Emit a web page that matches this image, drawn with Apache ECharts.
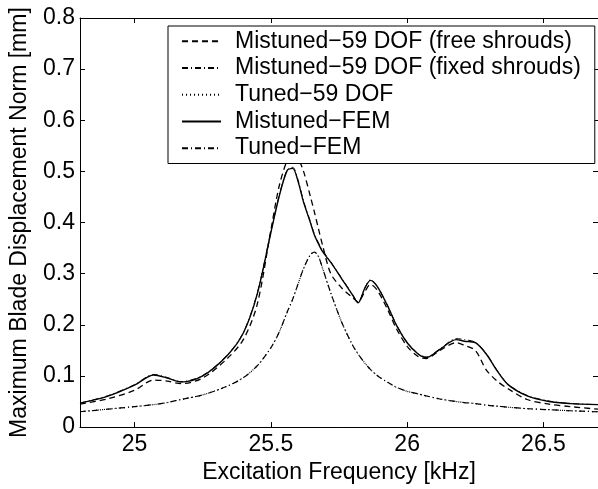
<!DOCTYPE html>
<html>
<head>
<meta charset="utf-8">
<script src="https://cdn.jsdelivr.net/npm/echarts@6/dist/echarts.min.js"></script>
<style>
html,body{margin:0;padding:0;background:#fff;}
#c{width:598px;height:489px;}
</style>
</head>
<body>
<div id="c"></div>
<script>
// Excitation frequency [kHz]
const freq = [24.8, 24.9, 25.0, 25.07, 25.12, 25.17, 25.25, 25.34, 25.4, 25.45, 25.5, 25.53, 25.56, 25.58, 25.6, 25.62, 25.645, 25.66, 25.675, 25.69, 25.72, 25.76, 25.8, 25.82, 25.845, 25.865, 25.89, 25.93, 25.96, 26.0, 26.04, 26.07, 26.12, 26.18, 26.21, 26.25, 26.29, 26.33, 26.37, 26.44, 26.52, 26.6, 26.7];

// Maximum blade displacement norm [mm]
const mistuned59Free = [0.045, 0.055, 0.072, 0.092, 0.090, 0.085, 0.096, 0.134, 0.172, 0.240, 0.385, 0.470, 0.522, 0.535, 0.525, 0.500, 0.451, 0.420, 0.387, 0.355, 0.300, 0.272, 0.253, 0.245, 0.265, 0.279, 0.268, 0.228, 0.193, 0.158, 0.138, 0.134, 0.150, 0.165, 0.160, 0.150, 0.112, 0.090, 0.075, 0.054, 0.045, 0.040, 0.035];
const mistuned59Fixed = [0.047, 0.061, 0.083, 0.103, 0.097, 0.089, 0.101, 0.141, 0.186, 0.262, 0.382, 0.452, 0.503, 0.508, 0.483, 0.442, 0.402, 0.377, 0.360, 0.345, 0.323, 0.291, 0.259, 0.244, 0.273, 0.288, 0.276, 0.236, 0.201, 0.166, 0.144, 0.137, 0.153, 0.173, 0.171, 0.166, 0.144, 0.111, 0.084, 0.062, 0.051, 0.046, 0.044];
const tuned59 = [0.030, 0.035, 0.040, 0.044, 0.048, 0.054, 0.063, 0.080, 0.097, 0.120, 0.155, 0.185, 0.225, 0.250, 0.280, 0.310, 0.337, 0.342, 0.333, 0.310, 0.262, 0.205, 0.160, 0.143, 0.125, 0.113, 0.101, 0.087, 0.078, 0.070, 0.065, 0.061, 0.055, 0.050, 0.048, 0.046, 0.043, 0.041, 0.039, 0.036, 0.034, 0.032, 0.030];
const mistunedFem = [0.047, 0.060, 0.082, 0.102, 0.096, 0.088, 0.100, 0.140, 0.185, 0.260, 0.380, 0.450, 0.502, 0.506, 0.480, 0.440, 0.400, 0.375, 0.358, 0.343, 0.322, 0.290, 0.258, 0.243, 0.272, 0.287, 0.275, 0.235, 0.200, 0.165, 0.143, 0.136, 0.152, 0.171, 0.168, 0.165, 0.143, 0.110, 0.083, 0.061, 0.050, 0.046, 0.044];
const tunedFem = [0.030, 0.035, 0.040, 0.044, 0.048, 0.054, 0.063, 0.080, 0.097, 0.120, 0.155, 0.185, 0.225, 0.250, 0.280, 0.310, 0.337, 0.342, 0.333, 0.310, 0.262, 0.205, 0.160, 0.143, 0.125, 0.113, 0.101, 0.087, 0.078, 0.070, 0.065, 0.061, 0.055, 0.050, 0.048, 0.046, 0.043, 0.041, 0.039, 0.036, 0.034, 0.032, 0.030];

const xTicks = [25, 25.5, 26, 26.5];
const seriesNames = ['Mistuned\u221259 DOF (free shrouds)', 'Mistuned\u221259 DOF (fixed shrouds)', 'Tuned\u221259 DOF', 'Mistuned\u2212FEM', 'Tuned\u2212FEM'];

const FONT = 'Liberation Sans, Arial, Helvetica, sans-serif';
const chart = echarts.init(document.getElementById('c'), null, {renderer: 'canvas'});

function pairs(vals) { return freq.map((f, i) => [f, vals[i]]); }
function line(name, vals, type, width) {
  return {
    name: name, type: 'line', data: pairs(vals),
    symbol: 'none', showSymbol: false, smooth: 0.3,
    lineStyle: {color: '#000', width: width, type: type},
    itemStyle: {color: '#000'},
    animation: false, silent: true
  };
}
const axisCommon = {
  axisLine: {show: true, onZero: false, lineStyle: {color: '#000', width: 1}},
  splitLine: {show: false}
};
chart.setOption({
  animation: false,
  backgroundColor: '#fff',
  grid: {left: 74, top: 18, width: 528, height: 417, containLabel: false},
  xAxis: [
    Object.assign({
      type: 'value', min: 24.8, max: 26.7, position: 'bottom',
      axisTick: {show: true, inside: true, length: 5, customValues: xTicks, lineStyle: {color: '#000'}},
      axisLabel: {show: true, customValues: xTicks, color: '#000', fontFamily: FONT, fontSize: 23, margin: 6,
        formatter: v => String(v)},
      name: 'Excitation Frequency [kHz]', nameLocation: 'middle', nameGap: 28,
      nameTextStyle: {color: '#000', fontFamily: FONT, fontSize: 23}
    }, axisCommon),
    Object.assign({
      type: 'value', min: 24.8, max: 26.7, position: 'top',
      axisTick: {show: true, inside: true, length: 5, customValues: xTicks, lineStyle: {color: '#000'}},
      axisLabel: {show: false}
    }, axisCommon)
  ],
  yAxis: [
    Object.assign({
      type: 'value', min: 0, max: 0.8, interval: 0.1, position: 'left',
      axisTick: {show: true, inside: true, length: 5, lineStyle: {color: '#000'}},
      axisLabel: {color: '#000', fontFamily: FONT, fontSize: 23, margin: 5,
        formatter: v => (Math.abs(v) < 1e-9 ? '0' : v.toFixed(1))},
      name: 'Maximum Blade Displacement Norm [mm]', nameLocation: 'middle', nameGap: 49,
      nameTextStyle: {color: '#000', fontFamily: FONT, fontSize: 23}
    }, axisCommon),
    Object.assign({
      type: 'value', min: 0, max: 0.8, interval: 0.1, position: 'right',
      axisTick: {show: true, inside: true, length: 5, lineStyle: {color: '#000'}},
      axisLabel: {show: false}
    }, axisCommon)
  ],
  legend: {
    show: true, orient: 'vertical', left: 168, top: 26,
    backgroundColor: '#fff', borderColor: '#000', borderWidth: 1,
    padding: [2, 14, 2, 13], itemGap: 0, itemWidth: 39, itemHeight: 14,
    itemStyle: {opacity: 0},
    textStyle: {color: '#000', fontFamily: FONT, fontSize: 23, lineHeight: 26.7, padding: [0, 0, 0, 9]},
    data: seriesNames, selectedMode: false
  },
  series: [
    line(seriesNames[0], mistuned59Free, [6, 4], 1.3),
    line(seriesNames[1], mistuned59Fixed, [6, 3, 1, 3], 1.0),
    line(seriesNames[2], tuned59, [1, 3], 1.2),
    line(seriesNames[3], mistunedFem, 'solid', 1.4),
    line(seriesNames[4], tunedFem, [6, 3, 1, 3], 1.2)
  ]
});
</script>
</body>
</html>
